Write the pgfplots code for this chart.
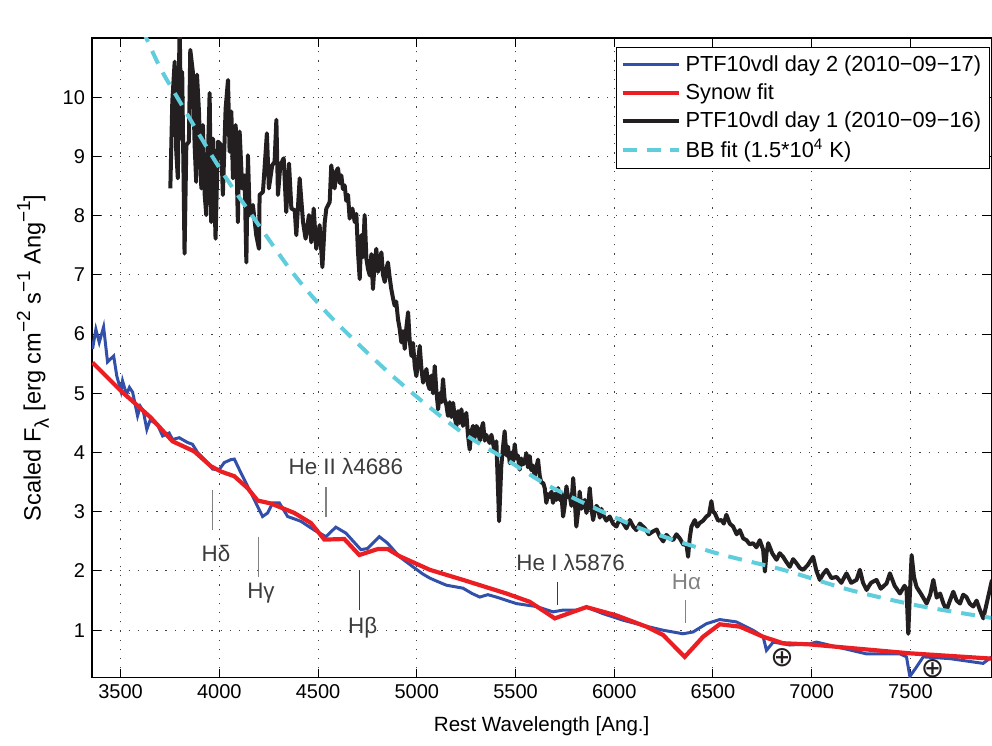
\documentclass[border=0pt]{standalone}
\usepackage{fontspec}
\setmainfont{Liberation Sans}
\newfontfamily\dejavu{DejaVu Sans}
\usepackage{pgfplots}
\pgfplotsset{compat=1.18}
\definecolor{bl}{RGB}{50,80,170}
\definecolor{rd}{RGB}{235,30,35}
\definecolor{bk}{RGB}{35,31,32}
\definecolor{cy}{RGB}{95,205,220}
\definecolor{ann}{RGB}{60,60,60}
\definecolor{annl}{RGB}{130,130,130}
\newcommand{\sups}[1]{\raisebox{0.45em}{\fontsize{9.5}{10}\selectfont #1}}
\newcommand{\earth}{{\dejavu\fontsize{14}{14}\selectfont ⊕}}
\begin{document}
\begin{tikzpicture}
\begin{axis}[name=ax,
  width=450pt, height=320pt, scale only axis,
  xmin=3355, xmax=7910, ymin=0.2, ymax=11,
  xtick={3500,4000,...,7500}, ytick={1,2,...,10},
  tick align=inside, major tick length=4.5pt,
  grid=major,
  grid style={dash pattern=on 0.6pt off 4pt, black!75, line width=0.5pt},
  axis line style={line width=0.6pt},
  tick style={black, line width=0.5pt},
  font=\fontsize{10}{12}\selectfont,
  /pgf/number format/assume math mode=true,
  /pgf/number format/1000 sep={},
  xlabel={Rest Wavelength [Ang.]},
  ylabel={Scaled F\raisebox{-0.35em}{\fontsize{10}{10}\selectfont λ} [erg cm\sups{−2} s\sups{−1} Ang\sups{−1}]},
  xlabel style={yshift=-2pt, font=\fontsize{10.3}{12}\selectfont},
  ylabel style={yshift=0pt, font=\fontsize{11.8}{13}\selectfont},
  legend style={at={(rel axis cs:0.998,0.986)}, anchor=north east,
    font=\fontsize{10.9}{13}\selectfont, draw=black, line width=0.5pt,
    inner sep=2pt, row sep=0.6pt, cells={anchor=west}},
  legend image code/.code={\draw[#1] (0pt,0pt) -- (28.5pt,0pt);},
]
\addplot[bl, line width=1.5pt] coordinates {
(3358,5.75)(3375,6.08)(3392,5.86)(3414,6.12)(3434,5.53)(3465,5.63)(3481,5.29)(3502,5.04)(3510,5.21)(3530,4.98)(3545,5.10)(3561,5.02)(3586,4.62)(3600,4.78)(3615,4.70)(3633,4.39)(3650,4.55)(3687,4.47)(3713,4.28)(3746,4.33)(3763,4.22)(3797,4.25)(3839,4.17)(3864,4.14)(3890,4.00)(3940,3.83)(3966,3.72)(3999,3.71)(4025,3.83)(4058,3.88)(4076,3.89)(4109,3.66)(4160,3.32)(4194,3.09)(4219,2.92)(4245,2.98)(4270,3.15)(4304,3.15)(4346,2.92)(4413,2.84)(4481,2.69)(4540,2.58)(4590,2.74)(4641,2.64)(4717,2.36)(4751,2.38)(4810,2.58)(4852,2.47)(4913,2.24)(4981,2.07)(5030,1.95)(5066,1.88)(5100,1.83)(5150,1.76)(5234,1.71)(5280,1.62)(5319,1.56)(5360,1.60)(5403,1.56)(5504,1.45)(5606,1.40)(5690,1.31)(5741,1.34)(5808,1.34)(5859,1.39)(5943,1.28)(6044,1.17)(6146,1.08)(6247,1.00)(6348,0.94)(6399,0.97)(6467,1.11)(6534,1.18)(6619,1.14)(6703,1.00)(6754,0.89)(6771,0.66)(6805,0.80)(6889,0.75)(6991,0.77)(7024,0.80)(7150,0.70)(7278,0.60)(7447,0.60)(7480,0.55)(7497,0.22)(7531,0.38)(7565,0.55)(7700,0.52)(7868,0.44)(7912,0.55)
};
\addlegendentry{PTF10vdl day 2 (2010−09−17)}
\addplot[rd, line width=2.1pt] coordinates {
(3358,5.52)(3493,5.07)(3653,4.59)(3763,4.19)(3873,4.02)(3957,3.77)(4008,3.68)(4076,3.60)(4143,3.40)(4194,3.19)(4261,3.14)(4380,2.98)(4464,2.81)(4532,2.53)(4633,2.54)(4709,2.27)(4802,2.37)(4853,2.37)(4913,2.25)(5066,2.02)(5234,1.85)(5454,1.62)(5572,1.48)(5699,1.20)(5859,1.39)(6011,1.25)(6163,1.06)(6247,0.92)(6357,0.55)(6450,0.89)(6534,1.10)(6636,1.06)(6754,0.89)(6855,0.78)(6991,0.76)(7497,0.61)(7912,0.52)
};
\addlegendentry{Synow fit}
\addplot[bk, line width=2pt, line join=round] coordinates {
(3752,8.46)(3762,9.93)(3774,10.60)(3782,9.08)(3790,8.63)(3799,11.3)(3807,9.30)(3812,10.43)(3824,7.36)(3833,9.19)(3846,9.25)(3853,10.80)(3866,10.43)(3875,9.19)(3883,8.57)(3887,10.38)(3897,9.76)(3909,8.46)(3917,9.53)(3926,8.35)(3934,8.01)(3951,10.07)(3959,7.89)(3968,9.30)(3981,7.61)(3993,9.25)(4010,9.19)(4018,8.35)(4032,9.81)(4044,10.29)(4052,9.08)(4061,9.76)(4069,8.63)(4083,9.53)(4094,7.89)(4103,9.42)(4116,8.46)(4128,8.68)(4137,7.21)(4145,9.02)(4154,8.01)(4170,8.18)(4187,7.67)(4201,7.44)(4204,8.35)(4221,8.40)(4241,9.39)(4251,8.46)(4268,8.85)(4280,8.91)(4289,9.62)(4297,8.35)(4309,8.85)(4326,8.97)(4339,8.06)(4353,8.88)(4365,8.12)(4382,8.09)(4390,7.67)(4407,8.63)(4424,7.89)(4437,7.61)(4454,8.01)(4466,7.55)(4478,8.12)(4491,7.44)(4508,7.84)(4522,7.13)(4534,7.89)(4542,8.12)(4559,8.23)(4567,8.85)(4576,8.60)(4584,8.46)(4592,8.75)(4601,8.80)(4610,8.55)(4618,8.68)(4626,8.45)(4635,8.51)(4643,8.25)(4652,8.35)(4660,7.95)(4674,8.12)(4686,7.89)(4694,8.03)(4702,7.40)(4711,6.93)(4719,7.67)(4727,7.30)(4736,8.01)(4745,7.27)(4753,7.10)(4762,6.99)(4770,7.35)(4778,6.76)(4787,7.20)(4795,7.44)(4804,7.05)(4812,7.25)(4821,7.38)(4829,7.00)(4838,6.88)(4846,7.10)(4854,7.21)(4863,6.95)(4871,6.76)(4880,6.60)(4888,6.48)(4896,6.55)(4905,6.25)(4913,6.10)(4922,5.86)(4930,6.05)(4939,5.75)(4947,6.10)(4956,6.37)(4964,5.90)(4973,5.63)(4981,5.85)(4990,5.45)(4998,5.29)(5007,5.55)(5015,5.80)(5024,5.40)(5032,5.18)(5040,5.30)(5049,5.41)(5057,5.15)(5065,5.07)(5074,5.30)(5082,5.00)(5091,5.46)(5099,5.05)(5108,4.73)(5116,5.00)(5125,4.85)(5133,5.24)(5141,4.90)(5150,4.80)(5158,4.62)(5167,4.85)(5175,4.60)(5184,4.84)(5192,4.60)(5201,4.45)(5209,4.70)(5217,4.50)(5226,4.73)(5234,4.45)(5243,4.55)(5251,4.67)(5259,4.30)(5268,4.05)(5276,4.35)(5285,4.45)(5293,4.25)(5302,4.45)(5310,4.39)(5319,4.20)(5327,4.40)(5336,4.50)(5344,4.20)(5352,4.30)(5361,4.22)(5369,4.16)(5378,4.30)(5386,4.16)(5395,4.00)(5403,4.19)(5417,2.84)(5428,3.77)(5437,4.10)(5445,4.36)(5454,3.95)(5462,4.10)(5471,3.82)(5479,4.00)(5488,3.85)(5496,4.14)(5504,3.90)(5512,3.95)(5521,3.71)(5530,3.90)(5538,3.80)(5547,3.85)(5555,3.99)(5563,3.75)(5572,3.94)(5580,3.70)(5589,3.78)(5597,3.60)(5606,3.75)(5614,3.88)(5623,3.60)(5631,3.49)(5640,3.49)(5648,3.40)(5656,3.15)(5665,3.30)(5673,3.25)(5682,3.34)(5690,3.15)(5699,3.30)(5707,3.20)(5716,3.40)(5724,3.20)(5732,3.32)(5741,2.92)(5749,3.10)(5758,3.43)(5766,3.25)(5775,3.26)(5783,3.10)(5792,3.57)(5800,3.20)(5808,2.75)(5817,3.00)(5825,3.34)(5834,3.05)(5842,3.15)(5851,3.20)(5859,2.98)(5868,3.10)(5876,3.40)(5885,3.05)(5893,2.86)(5901,3.00)(5910,3.10)(5918,3.06)(5927,2.90)(5935,3.05)(5943,2.95)(5960,2.85)(5977,2.92)(5994,2.80)(6011,2.75)(6028,2.88)(6045,2.81)(6062,2.72)(6079,2.86)(6096,2.75)(6112,2.69)(6130,2.80)(6155,2.72)(6175,2.62)(6197,2.67)(6215,2.70)(6231,2.58)(6248,2.50)(6264,2.61)(6281,2.55)(6298,2.52)(6315,2.62)(6332,2.55)(6349,2.45)(6366,2.44)(6374,2.24)(6382,2.55)(6391,2.75)(6408,2.86)(6420,2.75)(6433,2.81)(6450,2.85)(6467,2.92)(6480,2.95)(6492,3.18)(6500,3.00)(6509,2.98)(6526,2.85)(6543,2.86)(6555,2.80)(6568,2.95)(6585,2.80)(6602,2.75)(6620,2.62)(6636,2.69)(6653,2.55)(6670,2.52)(6686,2.45)(6703,2.47)(6720,2.40)(6737,2.52)(6754,2.36)(6763,1.99)(6771,2.30)(6780,2.47)(6800,2.30)(6822,2.19)(6838,2.30)(6855,2.24)(6872,2.15)(6889,2.07)(6906,2.20)(6923,2.13)(6940,2.05)(6957,2.02)(6980,2.10)(7007,2.24)(7024,2.00)(7041,1.85)(7058,1.95)(7075,2.02)(7100,1.88)(7126,1.90)(7150,1.80)(7176,1.96)(7200,1.80)(7227,1.85)(7244,2.02)(7260,1.80)(7278,1.68)(7300,1.80)(7328,1.85)(7350,1.70)(7379,1.79)(7396,1.96)(7420,1.75)(7447,1.62)(7470,1.75)(7480,1.70)(7489,0.94)(7497,1.60)(7506,2.27)(7518,1.90)(7531,1.73)(7556,1.60)(7582,1.45)(7600,1.60)(7616,1.85)(7633,1.55)(7650,1.62)(7667,1.45)(7683,1.34)(7700,1.50)(7717,1.65)(7734,1.50)(7751,1.45)(7767,1.60)(7784,1.56)(7800,1.45)(7818,1.40)(7835,1.50)(7852,1.34)(7869,1.20)(7886,1.45)(7913,1.85)
};
\addlegendentry{PTF10vdl day 1 (2010−09−16)}
\addplot[cy, line width=2pt, dash pattern=on 7pt off 5pt, smooth] coordinates {
(3610,11.15)(3700,10.50)(3799,9.93)(4002,8.80)(4204,7.82)(4380,7.00)(4559,6.31)(4812,5.49)(5015,4.90)(5234,4.33)(5454,3.88)(5673,3.43)(5994,2.92)(6180,2.66)(6518,2.30)(6855,2.02)(7193,1.68)(7531,1.42)(7868,1.23)(7910,1.21)
};
\addlegendentry{BB fit (1.5*10\textsuperscript{4} K)}
% annotations
\begin{scope}[every node/.style={font=\fontsize{11.2}{13}\selectfont}]
\draw[annl, line width=0.6pt] (axis cs:3966,3.37) -- (axis cs:3966,2.69);
\node[text=ann] at (axis cs:3983,2.30) {Hδ};
\draw[annl, line width=0.6pt] (axis cs:4199,2.58) -- (axis cs:4199,1.90);
\node[text=ann] at (axis cs:4211,1.62) {Hγ};
\draw[annl, line width=0.6pt] (axis cs:4540,3.41) -- (axis cs:4540,2.92);
\node[text=ann] at (axis cs:4641,3.77) {He II λ4686};
\draw[ann, line width=0.6pt] (axis cs:4711,2.00) -- (axis cs:4711,1.34);
\node[text=ann] at (axis cs:4726,1.05) {Hβ};
\draw[ann, line width=0.6pt] (axis cs:5712,1.82) -- (axis cs:5712,1.42);
\node[text=ann] at (axis cs:5779,2.14) {He I λ5876};
\draw[annl, line width=0.6pt] (axis cs:6362,1.51) -- (axis cs:6362,1.12);
\node[text=annl] at (axis cs:6366,1.82) {Hα};
\node[text=bk, inner sep=0pt] at (axis cs:6850,0.53) {\earth};
\node[text=bk, inner sep=0pt] at (axis cs:7612,0.35) {\earth};
\end{scope}
\node[anchor=south west, inner sep=0pt, font=\fontsize{11}{12}\selectfont] at ([yshift=4pt]rel axis cs:0,1) {x 10\textsuperscript{−16}};
\end{axis}
\pgfresetboundingbox
\path ([xshift=-46pt,yshift=-34pt]ax.south west) rectangle ([xshift=0.3pt,yshift=19pt]ax.north east);
\end{tikzpicture}
\end{document}
